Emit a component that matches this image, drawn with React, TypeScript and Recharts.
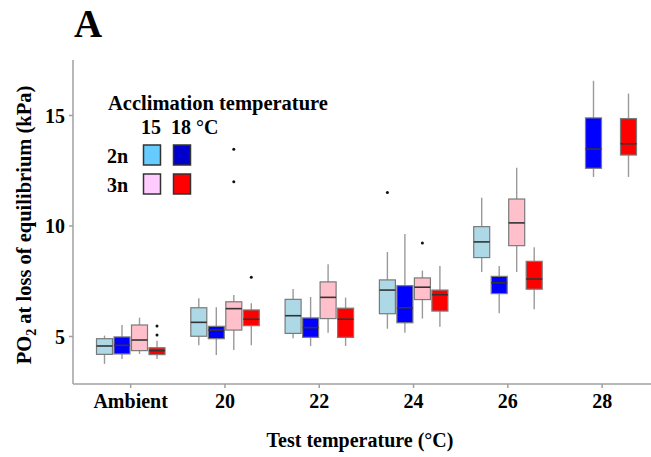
import React from "react";
import { ComposedChart, Bar, XAxis, YAxis } from "recharts";

// test temperatures on the x axis
const categories = ["Ambient", "20", "22", "24", "26", "28"];

// box stats per group: [min, q1, median, q3, max], null when not tested
const diploid15: (number[] | null)[] = [
  [3.76, 4.19, 4.57, 4.9, 5.04],
  [4.6, 5.01, 5.64, 6.3, 6.73],
  [4.92, 5.14, 5.94, 6.68, 7.15],
  [5.35, 6.03, 7.1, 7.56, 8.82],
  [7.92, 8.57, 9.28, 9.97, 11.28],
  null,
];
const diploid18: (number[] | null)[] = [
  [3.98, 4.21, 4.6, 4.98, 5.52],
  [4.16, 4.9, 5.29, 5.46, 6.32],
  [4.57, 4.96, 5.4, 5.84, 6.79],
  [5.17, 5.62, 6.3, 7.3, 9.64],
  [6.05, 6.94, 7.43, 7.72, 8.19],
  [12.22, 12.61, 13.48, 14.89, 16.57],
];
const triploid15: (number[] | null)[] = [
  [4.21, 4.36, 4.84, 5.52, 5.85],
  [4.39, 5.29, 6.26, 6.57, 6.88],
  [5.17, 5.81, 6.77, 7.47, 8.27],
  [5.81, 6.67, 7.23, 7.65, 7.98],
  [7.92, 9.11, 10.14, 11.22, 12.64],
  null,
];
const triploid18: (number[] | null)[] = [
  [3.98, 4.18, 4.36, 4.49, 4.81],
  [4.6, 5.49, 5.78, 6.2, 6.5],
  [4.57, 4.96, 5.78, 6.28, 6.76],
  [5.44, 6.15, 6.89, 7.1, 8.19],
  [6.23, 7.14, 7.6, 8.4, 9.04],
  [12.22, 13.21, 13.72, 14.86, 15.99],
];

// outlier points per group and category
const outliers2n15 = [[], [], [], [11.51], [], []];
const outliers2n18 = [[], [], [], [], [], []];
const outliers3n15 = [[], [13.47, 12.0], [], [9.23], [], []];
const outliers3n18 = [[5.475, 5.07], [7.68], [], [], [], []];

const yTicks = [5, 10, 15];

const groups = [
  { key: "d15", stats: diploid15, out: outliers2n15, fill: "#add8e6" },
  { key: "d18", stats: diploid18, out: outliers2n18, fill: "#0000ff" },
  { key: "t15", stats: triploid15, out: outliers3n15, fill: "#ffc0cb" },
  { key: "t18", stats: triploid18, out: outliers3n18, fill: "#ff0000" },
];

const data = categories.map((cat, i) => {
  const row: any = { cat };
  groups.forEach((g) => {
    const s = g.stats[i];
    row[g.key] = s
      ? { min: s[0], q1: s[1], med: s[2], q3: s[3], max: s[4], out: g.out[i] }
      : null;
  });
  return row;
});

const serif = "'Liberation Serif', 'DejaVu Serif', serif";

const makeShape = (key: string, fill: string) => (props: any) => {
  const { x, y, width, height, payload } = props;
  const s = payload && payload[key];
  if (!s || width == null || !height) return <g />;
  const top = Math.min(y, y + height);
  const h = Math.abs(height);
  const ppu = h / (s.q3 - s.q1);
  const py = (v: number) => top + (s.q3 - v) * ppu;
  const cx = x + width / 2;
  return (
    <g>
      <line x1={cx} x2={cx} y1={py(s.max)} y2={top} stroke="#9a9a9a" strokeWidth={1.4} />
      <line x1={cx} x2={cx} y1={top + h} y2={py(s.min)} stroke="#9a9a9a" strokeWidth={1.4} />
      <rect x={x} y={top} width={width} height={h} fill={fill} stroke="#7a7a7a" strokeWidth={1.2} />
      <line x1={x} x2={x + width} y1={py(s.med)} y2={py(s.med)} stroke="#333" strokeWidth={1.6} />
      {s.out.map((o: number, j: number) => (
        <circle key={j} cx={cx} cy={py(o)} r={1.5} fill="#111" />
      ))}
    </g>
  );
};

export default function App() {
  return (
    <div style={{ position: "absolute", left: 0, top: 0, width: 651, height: 457, background: "#fff" }}>
      <ComposedChart
        width={651}
        height={457}
        data={data}
        margin={{ top: 60, right: 0, left: 0, bottom: 0 }}
        barSize={16}
        barGap={1.5}
      >
        <XAxis
          dataKey="cat"
          height={73}
          padding={{ left: 10.5, right: 1.7 }}
          stroke="#a0a0a0"
          strokeWidth={1.5}
          tickSize={4}
          tickMargin={6}
          tick={{ fill: "#000", fontSize: 20, fontWeight: "bold", fontFamily: serif }}
        />
        <YAxis
          width={73}
          domain={[2.85, 17.51]}
          ticks={yTicks}
          allowDataOverflow
          stroke="#a0a0a0"
          strokeWidth={1.5}
          tickSize={4}
          tickMargin={4}
          tick={{ fill: "#000", fontSize: 20, fontWeight: "bold", fontFamily: serif }}
        />
        {groups.map((g) => (
          <Bar
            key={g.key}
            dataKey={(d: any) => (d[g.key] ? [d[g.key].q1, d[g.key].q3] : null)}
            fill={g.fill}
            shape={makeShape(g.key, g.fill)}
            isAnimationActive={false}
          />
        ))}
      </ComposedChart>

      <svg
        width={651}
        height={457}
        style={{ position: "absolute", left: 0, top: 0, pointerEvents: "none" }}
        fontFamily={serif}
        fontWeight="bold"
      >
        <text x={74} y={37} fontSize={39}>A</text>
        <text x={360} y={447} fontSize={20} textAnchor="middle">Test temperature (°C)</text>
        <text x={31} y={225} fontSize={20.5} textAnchor="middle" transform="rotate(-90 31 225)">
          PO<tspan fontSize={14} dy={5}>2</tspan>
          <tspan dy={-5}> at loss of equilibrium (kPa)</tspan>
        </text>

        <text x={108} y={110} fontSize={20.5}>Acclimation temperature</text>
        <text x={141} y={134} fontSize={20}>15</text>
        <text x={171} y={134} fontSize={20}>18 °C</text>
        <text x={107} y={163} fontSize={20}>2n</text>
        <text x={107} y={192} fontSize={20}>3n</text>
        <rect x={143.5} y={145} width={17} height={20} fill="#66ccff" stroke="#333" strokeWidth={1.5} />
        <rect x={173.5} y={145} width={17} height={20} fill="#0000cc" stroke="#333" strokeWidth={1.5} />
        <rect x={143.5} y={174} width={17} height={20} fill="#ffccff" stroke="#333" strokeWidth={1.5} />
        <rect x={173.5} y={174} width={17} height={20} fill="#ff0000" stroke="#333" strokeWidth={1.5} />
      </svg>
    </div>
  );
}
